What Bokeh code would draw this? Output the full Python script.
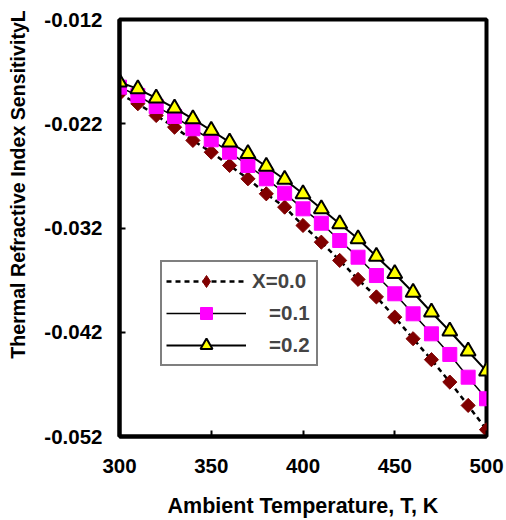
import math
from bokeh.plotting import figure
from bokeh.models import (Range1d, FixedTicker, NumeralTickFormatter, Legend, LegendItem,
                          ColumnDataSource)
from bokeh.embed import file_html
from bokeh.resources import INLINE

temps = [300, 310, 320, 330, 340, 350, 360, 370, 380, 390, 400,
         410, 420, 430, 440, 450, 460, 470, 480, 490, 500]
x00 = [-0.01913, -0.02008, -0.02121, -0.02233, -0.02360, -0.02473, -0.02600,
       -0.02728, -0.02872, -0.03000, -0.03176, -0.03336, -0.03511, -0.03693,
       -0.03861, -0.04055, -0.04262, -0.04463, -0.04678, -0.04902, -0.05135]
x01 = [-0.01849, -0.01929, -0.02035, -0.02130, -0.02248, -0.02354, -0.02473,
       -0.02600, -0.02728, -0.02866, -0.03016, -0.03154, -0.03320, -0.03480,
       -0.03656, -0.03831, -0.04023, -0.04215, -0.04413, -0.04631, -0.04838]
x02 = [-0.01801, -0.01865, -0.01955, -0.02051, -0.02153, -0.02265, -0.02377,
       -0.02488, -0.02610, -0.02735, -0.02872, -0.03016, -0.03160, -0.03304,
       -0.03473, -0.03639, -0.03819, -0.04008, -0.04190, -0.04382, -0.04573]
y_ticks = [-0.052, -0.042, -0.032, -0.022, -0.012]
x_ticks = [300, 350, 400, 450, 500]
labels = ["X=0.0", "\u00a0\u00a0\u00a0=0.1", "\u00a0\u00a0\u00a0=0.2"]

FONT = "Liberation Sans"

src = ColumnDataSource(dict(t=temps, a=x00, b=x01, c=x02))

p = figure(width=506, height=520, output_backend="svg", toolbar_location=None,
           x_range=Range1d(300, 500), y_range=Range1d(-0.052, -0.012),
           min_border_left=119, min_border_right=20, min_border_top=19, min_border_bottom=84)
p.xgrid.visible = False
p.ygrid.visible = False
p.outline_line_color = "black"
p.outline_line_width = 4
p.background_fill_color = "white"
p.border_fill_color = "white"

for ax in (p.xaxis[0], p.yaxis[0]):
    ax.axis_line_width = 4
    ax.axis_line_color = "black"
    ax.major_tick_in = 6
    ax.major_tick_out = 0
    ax.major_tick_line_width = 2
    ax.minor_tick_line_color = None
    ax.major_label_text_font = FONT
    ax.major_label_text_font_style = "bold"
    ax.major_label_text_font_size = "20.5px"
    ax.major_label_text_color = "black"
    ax.axis_label_text_font = FONT
    ax.axis_label_text_font_style = "bold"
    ax.axis_label_text_color = "black"

p.xaxis.ticker = FixedTicker(ticks=x_ticks)
p.yaxis.ticker = FixedTicker(ticks=y_ticks)
p.yaxis.formatter = NumeralTickFormatter(format="0.000")
p.xaxis.major_label_standoff = 22
p.yaxis.major_label_standoff = 17

p.xaxis.axis_label = "Ambient Temperature, T, K"
p.xaxis.axis_label_text_font_size = "21.5px"
p.xaxis.axis_label_standoff = 18
p.yaxis.axis_label = "\u00a0" * 16 + "Thermal Refractive Index SensitivityL"
p.yaxis.axis_label_text_font_size = "19.6px"
p.yaxis.axis_label_standoff = 12

l0 = p.line("t", "a", source=src, line_color="black", line_width=2.5, line_dash="5 4")
# narrow diamond (for the legend sample), hidden under the rotated squares in the plot
k0 = p.scatter("t", "a", source=src, marker="diamond", size=12,
               fill_color="#800000", line_color="#800000", line_width=1)
m0 = p.scatter("t", "a", source=src, marker="square", size=10, angle=math.pi / 4,
               fill_color="#800000", line_color="#800000")
l1 = p.line("t", "b", source=src, line_color="black", line_width=1.5)
m1 = p.scatter("t", "b", source=src, marker="square", size=14,
               fill_color="#FF00FF", line_color="#FF00FF")
l2 = p.line("t", "c", source=src, line_color="black", line_width=2)
m2 = p.scatter("t", "c", source=src, marker="triangle", size=15,
               fill_color="#FFFF00", line_color="black", line_width=2)

legend = Legend(items=[LegendItem(label=labels[0], renderers=[l0, k0]),
                       LegendItem(label=labels[1], renderers=[l1, m1]),
                       LegendItem(label=labels[2], renderers=[l2, m2])],
                location=(41, 70), glyph_width=80, glyph_height=30, spacing=2,
                padding=4, label_standoff=6, label_width=60,
                border_line_color="black", border_line_width=2,
                label_text_font=FONT, label_text_font_style="bold",
                label_text_font_size="20.5px", background_fill_alpha=1.0)
p.add_layout(legend, "center")

open("out.html", "w").write(file_html(p, INLINE))
